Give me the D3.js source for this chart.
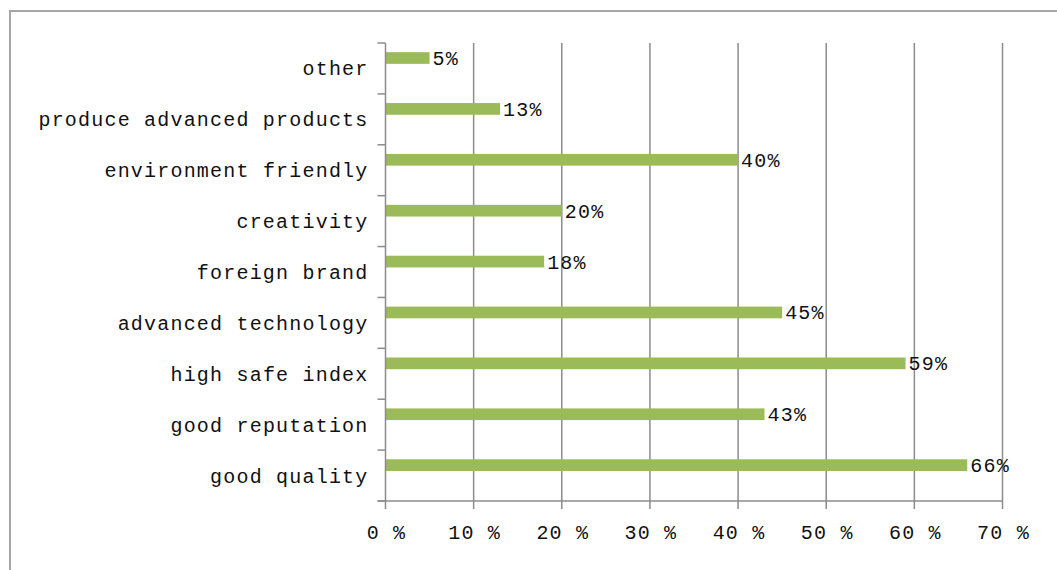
<!DOCTYPE html>
<html>
<head>
<meta charset="utf-8">
<script src="https://cdn.jsdelivr.net/npm/d3@7"></script>
<style>
  html, body { margin: 0; padding: 0; background: #fff; }
  svg { display: block; }
  text { font-family: "Liberation Mono", "DejaVu Sans Mono", monospace; font-size: 20px; fill: #111; letter-spacing: 1.2px; }
</style>
</head>
<body>
<svg id="chart" width="1057" height="570"></svg>
<script>
// Reasons for choosing a product, share of respondents (%)
const categories = [
  "other",
  "produce advanced products",
  "environment friendly",
  "creativity",
  "foreign brand",
  "advanced technology",
  "high safe index",
  "good reputation",
  "good quality"
];
const shares = [5, 13, 40, 20, 18, 45, 59, 43, 66];
const tickValues = [0, 10, 20, 30, 40, 50, 60, 70];
const tickLabels = ["0 %", "10 %", "20 %", "30 %", "40 %", "50 %", "60 %", "70 %"];

const svg = d3.select("#chart");
const gridColor = "#8c8c8c";
const barColor = "#9bbb59";

// outer chart frame
svg.append("rect")
  .attr("x", 10).attr("y", 11)
  .attr("width", 1100).attr("height", 600)
  .attr("fill", "none").attr("stroke", "#a6a6a6").attr("stroke-width", 2);

const x = d3.scaleLinear().domain([0, 70]).range([385.5, 1002.5]);
const y = d3.scaleBand().domain(categories).range([43, 501]).padding(0);
const bw = y.bandwidth();
const [plotTop, plotBottom] = y.range();

// vertical gridlines
svg.append("g").selectAll("line")
  .data(tickValues.filter(v => v > 0))
  .join("line")
  .attr("x1", d => x(d)).attr("x2", d => x(d))
  .attr("y1", plotTop).attr("y2", plotBottom)
  .attr("stroke", gridColor).attr("stroke-width", 1.5);

const rows = categories.map((c, i) => ({ c, v: shares[i] }));

// bars
svg.append("g").selectAll("rect")
  .data(rows)
  .join("rect")
  .attr("x", x(0))
  .attr("y", d => y(d.c) + bw * 0.18)
  .attr("width", d => x(d.v) - x(0))
  .attr("height", bw * 0.23)
  .attr("fill", barColor);

// value labels
svg.append("g").selectAll("text")
  .data(rows)
  .join("text")
  .attr("x", d => x(d.v) + 3)
  .attr("y", d => y(d.c) + bw * 0.295 + 7)
  .text(d => d.v + "%");

// category axis (ticks at band boundaries)
const yAxis = svg.append("g");
yAxis.append("line")
  .attr("x1", x(0)).attr("x2", x(0))
  .attr("y1", plotTop).attr("y2", plotBottom)
  .attr("stroke", gridColor).attr("stroke-width", 1.5);
yAxis.selectAll("line.tick")
  .data(categories.map(c => y(c)).concat([plotBottom]))
  .join("line")
  .attr("class", "tick")
  .attr("x1", x(0) - 8).attr("x2", x(0))
  .attr("y1", d => d).attr("y2", d => d)
  .attr("stroke", gridColor).attr("stroke-width", 1.5);
yAxis.selectAll("text")
  .data(categories)
  .join("text")
  .attr("x", x(0) - 17)
  .attr("y", d => y(d) + bw / 2 + 7)
  .attr("text-anchor", "end")
  .text(d => d);

// value axis
const xAxis = svg.append("g");
xAxis.append("line")
  .attr("x1", x(0) - 8).attr("x2", x(70))
  .attr("y1", plotBottom).attr("y2", plotBottom)
  .attr("stroke", gridColor).attr("stroke-width", 1.5);
xAxis.selectAll("line.tick")
  .data(tickValues)
  .join("line")
  .attr("class", "tick")
  .attr("x1", d => x(d)).attr("x2", d => x(d))
  .attr("y1", plotBottom).attr("y2", plotBottom + 8)
  .attr("stroke", gridColor).attr("stroke-width", 1.5);
xAxis.selectAll("text")
  .data(tickValues)
  .join("text")
  .attr("x", d => x(d) + 1)
  .attr("y", plotBottom + 38)
  .attr("text-anchor", "middle")
  .text((d, i) => tickLabels[i]);
</script>
</body>
</html>
